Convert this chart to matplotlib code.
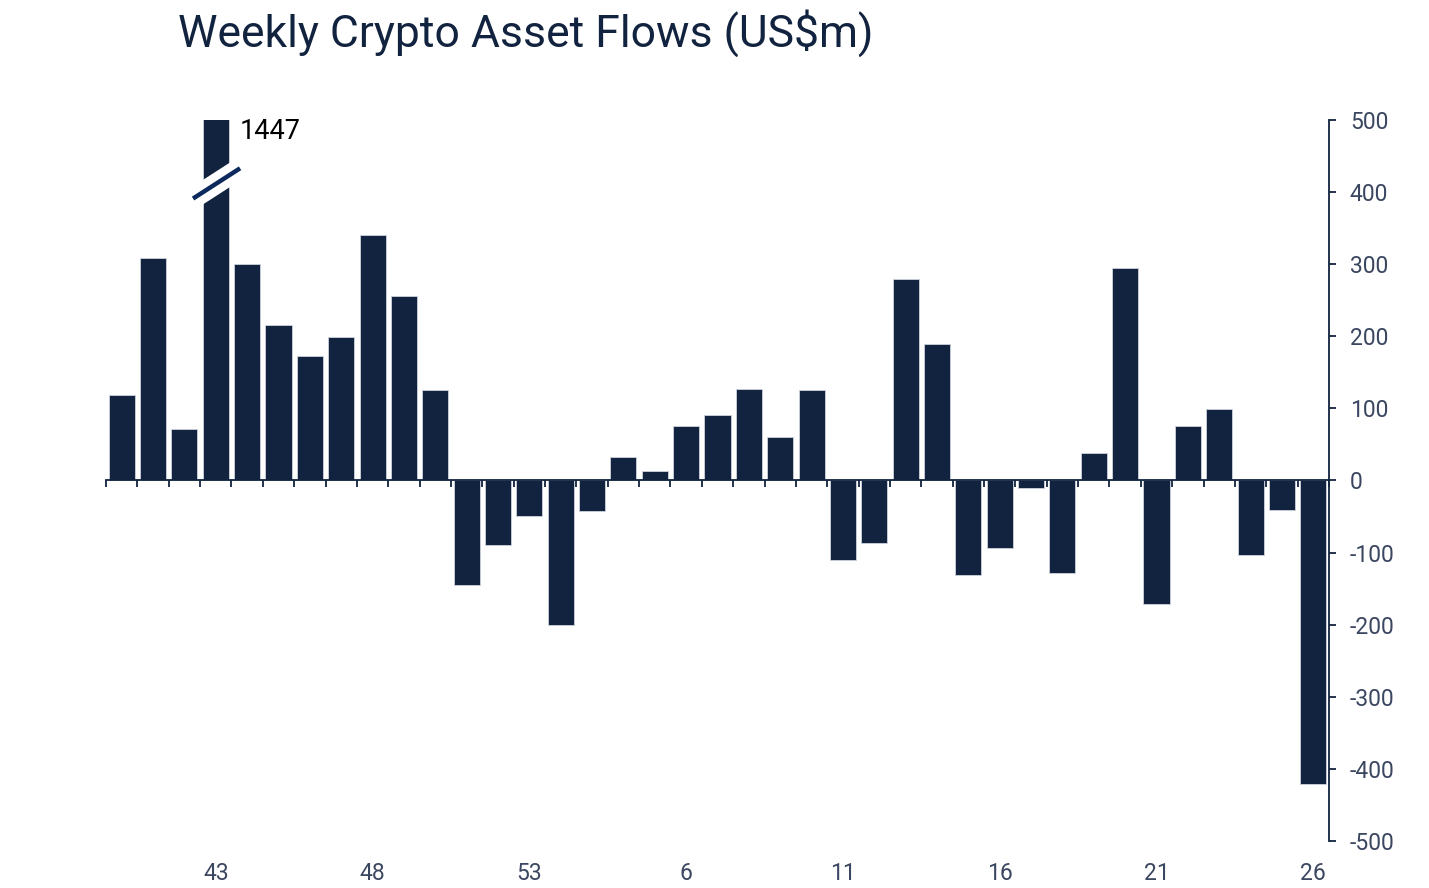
import numpy as np
import matplotlib.pyplot as plt
from matplotlib.patches import Polygon

plt.rcParams["font.family"] = ["Roboto", "DejaVu Sans"]
plt.rcParams["axes.unicode_minus"] = False  # plain hyphen on negatives

# ------------------------------------------ data (US$m per week)
weeks = list(range(40, 54)) + list(range(2, 27))
flows = [118, 309, 71, 1447, 300, 215, 173, 199, 341, 256, 125,
         -145, -89, -49, -200, -42, 33, 13, 75, 91, 127, 60, 126,
         -110, -86, 280, 189, -131, -94, -11, -128, 38, 295,
         -171, 75, 99, -103, -41, -421]
label_every = 5
first_label = 3
broken_ix = 3          # bar that runs off the scale
y_ticks = list(range(-500, 501, 100))

navy = '#12233f'
tick_col = '#3b4660'

# ------------------------------------------ figure
fig = plt.figure(figsize=(14.29, 8.88), dpi=100)
ax = fig.add_axes([0.0742, 0.0529, 0.8558, 0.812])

x = np.arange(len(flows))
ax.bar(x, flows, width=0.83, color=navy, edgecolor='#cdd3dd', linewidth=0.6, zorder=2)
ax.set_xlim(-0.5, len(flows) - 0.5)
ax.set_ylim(-500, 500)

# spines: zero line at bottom, value axis on the right
for s in ['top', 'left']:
    ax.spines[s].set_visible(False)
ax.spines['bottom'].set_position(('data', 0))
ax.spines['bottom'].set_color(navy)
ax.spines['bottom'].set_linewidth(1.3)
ax.spines['bottom'].set_zorder(3)
ax.spines['right'].set_color(navy)
ax.spines['right'].set_linewidth(1.3)

ax.yaxis.tick_right()
ax.set_yticks(y_ticks)
ax.tick_params(axis='y', direction='out', length=5, width=1.3, color=navy,
               labelsize=16.5, labelcolor=tick_col, pad=10)

# boundary ticks on the zero line, no labels there
ax.set_xticks(np.arange(-0.5, len(flows), 1.0))
ax.set_xticklabels([])
ax.tick_params(axis='x', direction='out', length=5, width=1.3, color=navy)

# week labels along the bottom edge
sec = ax.secondary_xaxis('bottom')
pos = list(range(first_label, len(flows), label_every))
sec.set_xticks(pos)
sec.set_xticklabels([str(weeks[p]) for p in pos])
sec.spines['bottom'].set_visible(False)
sec.tick_params(length=0, labelsize=16.5, labelcolor=tick_col, pad=15)

# ------------------------------------------ break mark on the off-scale bar
bx0, bx1 = broken_ix - 0.6, broken_ix + 0.6
lx0, lx1 = broken_ix - 0.725, broken_ix + 0.774
ly0, ly1 = 391, 433
slope = (ly1 - ly0) / (lx1 - lx0)
yl = lambda xx: ly0 + slope * (xx - lx0)
half = 17
gap = Polygon([[bx0, yl(bx0) - half], [bx1, yl(bx1) - half],
               [bx1, yl(bx1) + half], [bx0, yl(bx0) + half]],
              closed=True, facecolor='white', edgecolor='none', zorder=4)
ax.add_patch(gap)
ax.plot([lx0, lx1], [ly0, ly1], color='#0d2a5c', linewidth=3.2,
        solid_capstyle='butt', zorder=5, clip_on=False)
ax.text(broken_ix + 0.77, 484, str(flows[broken_ix]), fontsize=19.5,
        color='black', va='center', ha='left', zorder=5)

# ------------------------------------------ title
fig.text(0.1245, 0.963, 'Weekly Crypto Asset Flows (US$m)', fontsize=32,
         color=navy, va='center', ha='left')

fig.savefig('out.png', dpi=100)
